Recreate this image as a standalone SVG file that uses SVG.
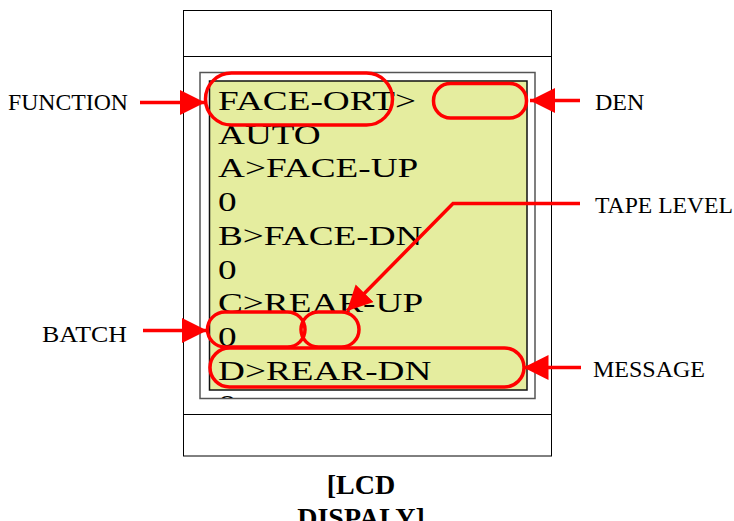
<svg xmlns="http://www.w3.org/2000/svg" width="734" height="521" viewBox="0 0 734 521">
<style>
.lbl{font-family:"Liberation Serif","Times New Roman",serif;font-size:24px;fill:#000}
.lcd{font-family:"Liberation Serif","Times New Roman",serif;font-size:28px;fill:#000}
.cap{font-family:"Liberation Serif","Times New Roman",serif;font-size:28px;font-weight:bold;fill:#000}
.hl{fill:none;stroke:#ff0000;stroke-width:3.5}
.ar{fill:none;stroke:#ff0000;stroke-width:3.5}
</style>
<defs>
<marker id="ah" markerUnits="userSpaceOnUse" markerWidth="26" markerHeight="26" refX="25" refY="12.5" orient="auto">
<path d="M0,0 L25,12.5 L0,25 z" fill="#ff0000"/>
</marker>
<clipPath id="lcdclip"><rect x="200" y="72" width="335" height="326"/></clipPath>
</defs>
<g id="device">
<rect x="183.5" y="10.5" width="368" height="445.5" fill="#fff" stroke="#000" stroke-width="1"/>
<line x1="183.5" y1="56.5" x2="551.5" y2="56.5" stroke="#000" stroke-width="1"/>
<line x1="183.5" y1="414.5" x2="551.5" y2="414.5" stroke="#000" stroke-width="1"/>
<rect x="200" y="72.5" width="335" height="326" fill="#fff" stroke="#555" stroke-width="1.5"/>
<rect x="209.5" y="81" width="317.5" height="309" fill="#e5ed9f" stroke="#111" stroke-width="1.5"/>
</g>
<g id="lcd-text" clip-path="url(#lcdclip)">
<g transform="translate(218 0) scale(1.33 1)">
<text class="lcd">
<tspan x="0" y="110">FACE-ORT&gt;</tspan>
<tspan x="0" y="143.75">AUTO</tspan>
<tspan x="0" y="177.5">A&gt;FACE-UP</tspan>
<tspan x="0" y="211.25">0</tspan>
<tspan x="0" y="245">B&gt;FACE-DN</tspan>
<tspan x="0" y="278.75">0</tspan>
<tspan x="0" y="312.5">C&gt;REAR-UP</tspan>
<tspan x="0" y="346.25">0</tspan>
<tspan x="0" y="380">D&gt;REAR-DN</tspan>
<tspan x="0" y="413.75">0</tspan>
</text>
</g>
</g>
<g id="highlights">
<rect class="hl" x="205.5" y="73" width="187" height="52" rx="26" ry="26"/>
<rect class="hl" x="433.5" y="83.5" width="93" height="34.5" rx="17" ry="17"/>
<rect class="hl" x="207.5" y="312" width="97.5" height="35" rx="17.5" ry="17.5"/>
<rect class="hl" x="301" y="312" width="58" height="35" rx="17.5" ry="17.5"/>
<rect class="hl" x="210" y="348" width="314" height="39" rx="19.5" ry="19.5"/>
</g>
<g id="connectors">
<line class="ar" x1="140" y1="102.5" x2="205" y2="102.5" marker-end="url(#ah)"/>
<line class="ar" x1="580" y1="100.5" x2="530" y2="100.5" marker-end="url(#ah)"/>
<polyline class="ar" points="580,203.5 453,203.5 347,311" marker-end="url(#ah)"/>
<line class="ar" x1="581" y1="367.5" x2="523.5" y2="367.5" marker-end="url(#ah)"/>
<line class="ar" x1="143" y1="330.5" x2="207" y2="330.5" marker-end="url(#ah)"/>
</g>
<g id="label-function"><text class="lbl" x="8" y="110" textLength="120" lengthAdjust="spacingAndGlyphs">FUNCTION</text></g>
<g id="label-den"><text class="lbl" x="595" y="110">DEN</text></g>
<g id="label-tape"><text class="lbl" x="595" y="212.5" textLength="138" lengthAdjust="spacingAndGlyphs">TAPE LEVEL</text></g>
<g id="label-message"><text class="lbl" x="593" y="377" textLength="112" lengthAdjust="spacingAndGlyphs">MESSAGE</text></g>
<g id="label-batch"><text class="lbl" x="42" y="341.5" textLength="85" lengthAdjust="spacingAndGlyphs">BATCH</text></g>
<g id="caption">
<text class="cap" text-anchor="middle"><tspan x="361" y="493.5">[LCD</tspan><tspan x="361" y="526.5">DISPALY]</tspan></text>
</g>
</svg>
